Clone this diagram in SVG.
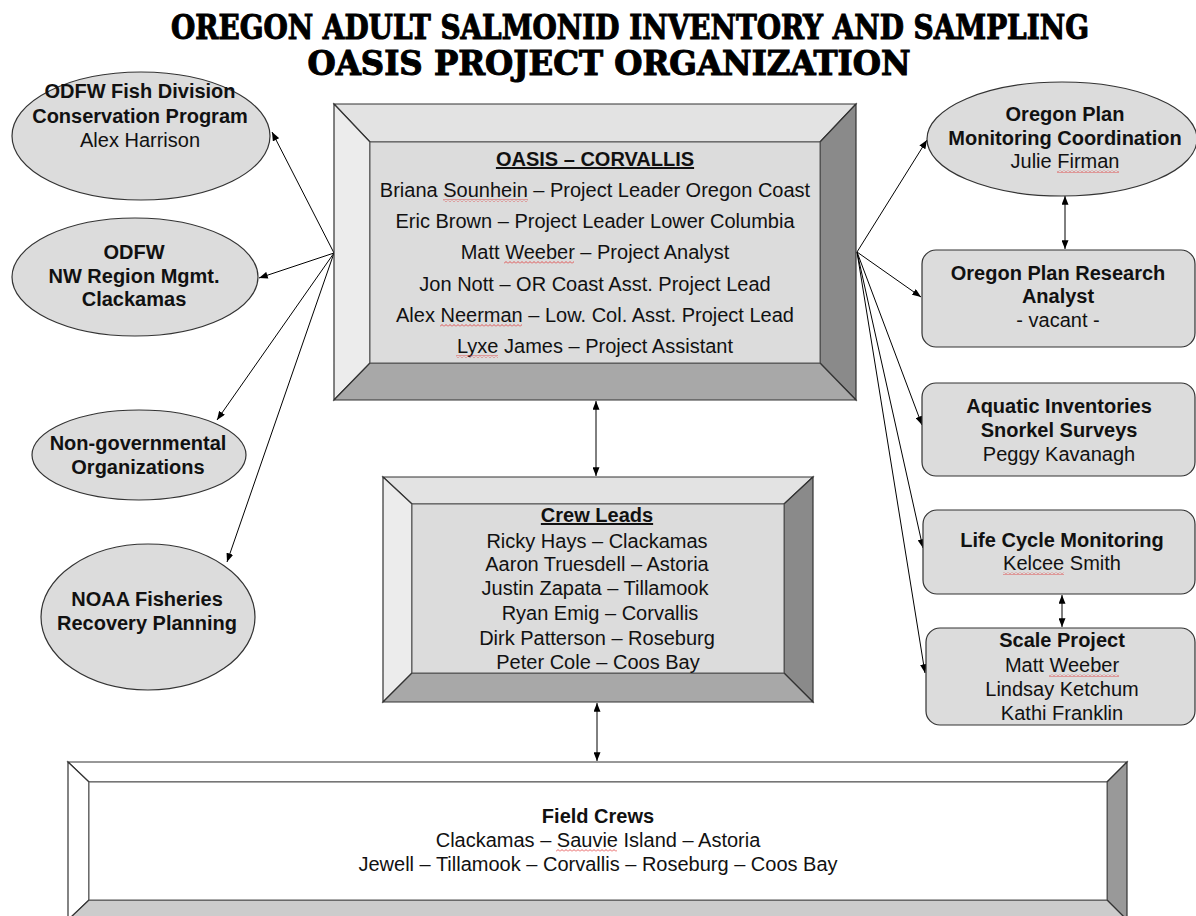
<svg xmlns="http://www.w3.org/2000/svg" width="1196" height="916" viewBox="0 0 1196 916">
<style>
text{font-family:"Liberation Sans",Arial,sans-serif;font-size:20px;fill:#111;text-anchor:middle}
.b{font-weight:bold}
.u{text-decoration:underline}
.title{font-family:"DejaVu Serif","Liberation Serif",serif;font-stretch:condensed;font-weight:900;font-size:33px;fill:#000;stroke:#000;stroke-width:1}
.node{fill:#dcdcdc;stroke:#333;stroke-width:1.2}
.edge{stroke:#000;stroke-width:1;fill:none;marker-end:url(#ah)}
.dbl{marker-start:url(#ah)}
.ol{stroke:#333;stroke-width:1.2;stroke-linejoin:miter}
.in{stroke:#555;stroke-width:1}
.sq{fill:url(#sq)}
</style>
<defs>
<marker id="ah" viewBox="0 0 10 8" refX="10" refY="4" markerWidth="9" markerHeight="7" orient="auto-start-reverse" markerUnits="userSpaceOnUse">
<path d="M0,0 L10,4 L0,8 z" fill="#000"/>
</marker>
<pattern id="sq" width="4" height="3" patternUnits="userSpaceOnUse">
<path d="M0,2.5 L2,0.5 L4,2.5" stroke="#e03030" stroke-width="0.8" fill="none"/>
</pattern>
</defs>
<rect width="1196" height="916" fill="#fff"/>

<g id="title">
<text class="title" x="630" y="39" textLength="918" lengthAdjust="spacingAndGlyphs">OREGON ADULT SALMONID INVENTORY AND SAMPLING</text>
<text class="title" x="609" y="75" textLength="603" lengthAdjust="spacingAndGlyphs">OASIS PROJECT ORGANIZATION</text>
</g>

<g id="connectors">
<line class="edge" x1="334" y1="253" x2="272" y2="132"/>
<line class="edge" x1="334" y1="253" x2="259" y2="278"/>
<line class="edge" x1="334" y1="253" x2="217" y2="420"/>
<line class="edge" x1="334" y1="253" x2="227" y2="562"/>
<line class="edge" x1="857" y1="252" x2="927" y2="140"/>
<line class="edge" x1="857" y1="252" x2="921" y2="297"/>
<line class="edge" x1="857" y1="252" x2="922" y2="425"/>
<line class="edge" x1="857" y1="252" x2="923" y2="548"/>
<line class="edge" x1="857" y1="252" x2="925" y2="673"/>
<line class="edge dbl" x1="596" y1="401" x2="596" y2="476"/>
<line class="edge dbl" x1="597" y1="703" x2="597" y2="761"/>
<line class="edge dbl" x1="1065" y1="196" x2="1065" y2="249"/>
<line class="edge dbl" x1="1062" y1="595" x2="1062" y2="627"/>
</g>

<g id="odfw-fish">
<ellipse class="node" cx="141" cy="136" rx="129" ry="64"/>
<text class="b" x="140" y="98">ODFW Fish Division</text>
<text class="b" x="140" y="123">Conservation Program</text>
<text x="140" y="147">Alex Harrison</text>
</g>

<g id="odfw-nw">
<ellipse class="node" cx="135" cy="277" rx="123" ry="59"/>
<text class="b" x="134" y="259">ODFW</text>
<text class="b" x="134" y="283">NW Region Mgmt.</text>
<text class="b" x="134" y="306">Clackamas</text>
</g>

<g id="ngo">
<ellipse class="node" cx="139" cy="455" rx="107" ry="45"/>
<text class="b" x="138" y="450">Non-governmental</text>
<text class="b" x="138" y="474">Organizations</text>
</g>

<g id="noaa">
<ellipse class="node" cx="148" cy="617" rx="107" ry="73"/>
<text class="b" x="147" y="606">NOAA Fisheries</text>
<text class="b" x="147" y="630">Recovery Planning</text>
</g>

<g id="oasis-corvallis">
<polygon class="ol" fill="#e3e3e3" points="334,104 856,104 820,142 370,142"/>
<polygon class="ol" fill="#ececec" points="334,104 370,142 370,363 334,400"/>
<polygon class="ol" fill="#8a8a8a" points="856,104 856,400 820,363 820,142"/>
<polygon class="ol" fill="#a8a8a8" points="334,400 370,363 820,363 856,400"/>
<rect class="in" x="370" y="142" width="450" height="221" fill="#dcdcdc"/>
<text class="b u" x="595" y="166">OASIS – CORVALLIS</text>
<text x="595" y="197">Briana Sounhein – Project Leader Oregon Coast</text>
<text x="595" y="228">Eric Brown – Project Leader Lower Columbia</text>
<text x="595" y="259">Matt Weeber – Project Analyst</text>
<text x="595" y="291">Jon Nott – OR Coast Asst. Project Lead</text>
<text x="595" y="322">Alex Neerman – Low. Col. Asst. Project Lead</text>
<text x="595" y="353">Lyxe James – Project Assistant</text>
<rect class="sq" x="443" y="199" width="85" height="3"/>
<rect class="sq" x="504" y="261" width="70" height="3"/>
<rect class="sq" x="440" y="324" width="82" height="3"/>
<rect class="sq" x="456" y="355" width="42" height="3"/>
</g>

<g id="crew-leads">
<polygon class="ol" fill="#e3e3e3" points="383,477 813,477 784,504 412,504"/>
<polygon class="ol" fill="#ececec" points="383,477 412,504 412,673 383,702"/>
<polygon class="ol" fill="#8a8a8a" points="813,477 813,702 784,673 784,504"/>
<polygon class="ol" fill="#a8a8a8" points="383,702 412,673 784,673 813,702"/>
<rect class="in" x="412" y="504" width="372" height="169" fill="#dcdcdc"/>
<text class="b u" x="597" y="522">Crew Leads</text>
<text x="597" y="548">Ricky Hays – Clackamas</text>
<text x="597" y="571">Aaron Truesdell – Astoria</text>
<text x="595" y="595">Justin Zapata – Tillamook</text>
<text x="600" y="620">Ryan Emig – Corvallis</text>
<text x="597" y="645">Dirk Patterson – Roseburg</text>
<text x="598" y="669">Peter Cole – Coos Bay</text>
</g>

<g id="field-crews">
<polygon class="ol" fill="#ffffff" points="68,762 1127,762 1107,782 89,782"/>
<polygon class="ol" fill="#ffffff" points="68,762 89,782 89,900 68,920"/>
<polygon class="ol" fill="#999999" points="1127,762 1127,920 1107,900 1107,782"/>
<polygon class="ol" fill="#cccccc" points="68,920 89,900 1107,900 1127,920"/>
<rect class="in" x="89" y="782" width="1018" height="118" fill="#ffffff"/>
<text class="b" x="598" y="823">Field Crews</text>
<text x="598" y="847">Clackamas – Sauvie Island – Astoria</text>
<text x="598" y="871">Jewell – Tillamook – Corvallis – Roseburg – Coos Bay</text>
<rect class="sq" x="556" y="849" width="61" height="3"/>
</g>

<g id="oregon-plan-monitoring">
<ellipse class="node" cx="1062" cy="139" rx="135" ry="57"/>
<text class="b" x="1065" y="121">Oregon Plan</text>
<text class="b" x="1065" y="145">Monitoring Coordination</text>
<text x="1065" y="168">Julie Firman</text>
<rect class="sq" x="1057" y="170" width="62" height="3"/>
</g>

<g id="research-analyst">
<rect class="node" x="922" y="250" width="273" height="97" rx="14"/>
<text class="b" x="1058" y="280">Oregon Plan Research</text>
<text class="b" x="1058" y="303">Analyst</text>
<text x="1058" y="327">- vacant -</text>
</g>

<g id="aquatic-inventories">
<rect class="node" x="922" y="383" width="273" height="93" rx="14"/>
<text class="b" x="1059" y="413">Aquatic Inventories</text>
<text class="b" x="1059" y="437">Snorkel Surveys</text>
<text x="1059" y="461">Peggy Kavanagh</text>
</g>

<g id="life-cycle">
<rect class="node" x="923" y="510" width="272" height="84" rx="14"/>
<text class="b" x="1062" y="547">Life Cycle Monitoring</text>
<text x="1062" y="570">Kelcee Smith</text>
<rect class="sq" x="1003" y="572" width="61" height="3"/>
</g>

<g id="scale-project">
<rect class="node" x="926" y="628" width="269" height="97" rx="14"/>
<text class="b" x="1062" y="647">Scale Project</text>
<text x="1062" y="672">Matt Weeber</text>
<text x="1062" y="696">Lindsay Ketchum</text>
<text x="1062" y="720">Kathi Franklin</text>
<rect class="sq" x="1049" y="674" width="70" height="3"/>
</g>
</svg>
